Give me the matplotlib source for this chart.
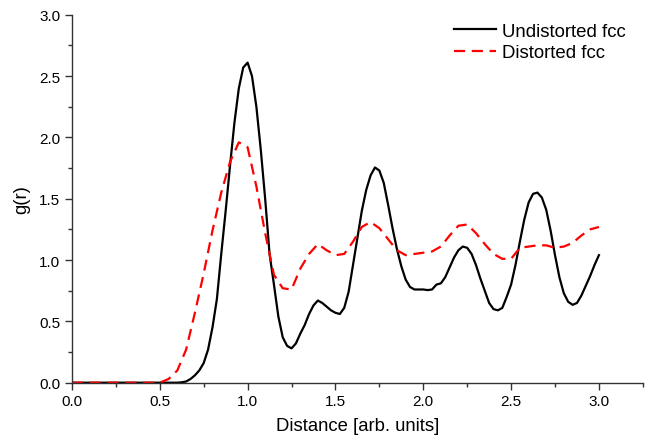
import numpy as np
import matplotlib
matplotlib.use('Agg')
import matplotlib.pyplot as plt
from matplotlib.ticker import MultipleLocator

plt.rcParams['font.family'] = ['Liberation Sans', 'DejaVu Sans']

# Undistorted fcc (fine sampling)
r_undist = [0.0, 0.1, 0.2, 0.3, 0.4, 0.5, 0.6, 0.625, 0.65, 0.675, 0.70, 0.725,
            0.75, 0.775, 0.80, 0.825, 0.85, 0.875, 0.90, 0.925, 0.95, 0.975,
            1.00, 1.025, 1.05, 1.075, 1.10, 1.125, 1.15, 1.175, 1.20, 1.225,
            1.25, 1.275, 1.30, 1.325, 1.35, 1.375, 1.40, 1.425, 1.45, 1.475,
            1.50, 1.525, 1.55, 1.575, 1.60, 1.625, 1.65, 1.675, 1.70, 1.725,
            1.75, 1.775, 1.80, 1.825, 1.85, 1.875, 1.90, 1.925, 1.95, 1.975,
            2.00, 2.025, 2.05, 2.075, 2.10, 2.125, 2.15, 2.175, 2.20, 2.225,
            2.25, 2.275, 2.30, 2.325, 2.35, 2.375, 2.40, 2.425, 2.45, 2.475,
            2.50, 2.525, 2.55, 2.575, 2.60, 2.625, 2.65, 2.675, 2.70, 2.725,
            2.75, 2.775, 2.80, 2.825, 2.85, 2.875, 2.90, 2.925, 2.95, 2.975, 3.00]
g_undist = [0.0, 0.0, 0.0, 0.0, 0.0, 0.0, 0.0, 0.003, 0.01, 0.03, 0.06, 0.10,
            0.16, 0.27, 0.45, 0.68, 1.05, 1.40, 1.77, 2.12, 2.40, 2.57,
            2.61, 2.50, 2.25, 1.90, 1.50, 1.05, 0.80, 0.54, 0.37, 0.30,
            0.28, 0.32, 0.40, 0.47, 0.56, 0.63, 0.67, 0.65, 0.62, 0.59,
            0.57, 0.56, 0.61, 0.74, 0.96, 1.18, 1.40, 1.57, 1.69, 1.755,
            1.73, 1.63, 1.45, 1.26, 1.09, 0.95, 0.84, 0.78, 0.76, 0.76,
            0.76, 0.755, 0.76, 0.80, 0.81, 0.86, 0.94, 1.02, 1.08, 1.11,
            1.10, 1.05, 0.96, 0.85, 0.75, 0.65, 0.60, 0.59, 0.61, 0.70,
            0.80, 0.96, 1.15, 1.33, 1.47, 1.54, 1.55, 1.51, 1.41, 1.24,
            1.04, 0.86, 0.73, 0.66, 0.635, 0.65, 0.71, 0.79, 0.87, 0.96, 1.04]

# Distorted fcc (coarse sampling)
r_dist = [0.0, 0.1, 0.2, 0.3, 0.4, 0.5, 0.55, 0.60, 0.65, 0.70, 0.75, 0.80,
          0.85, 0.90, 0.95, 1.00, 1.05, 1.10, 1.15, 1.20, 1.25, 1.30, 1.35,
          1.40, 1.45, 1.50, 1.55, 1.60, 1.65, 1.70, 1.75, 1.80, 1.85, 1.90,
          1.95, 2.00, 2.05, 2.10, 2.15, 2.20, 2.25, 2.30, 2.35, 2.40, 2.45,
          2.50, 2.55, 2.60, 2.65, 2.70, 2.75, 2.80, 2.85, 2.90, 2.95, 3.00]
g_dist = [0.0, 0.0, 0.0, 0.0, 0.0, 0.0, 0.03, 0.10, 0.27, 0.57, 0.89, 1.24,
          1.55, 1.80, 1.96, 1.92, 1.60, 1.22, 0.88, 0.77, 0.76, 0.93, 1.05,
          1.13, 1.08, 1.04, 1.05, 1.15, 1.27, 1.31, 1.26, 1.17, 1.08, 1.04,
          1.05, 1.06, 1.07, 1.11, 1.20, 1.28, 1.29, 1.22, 1.13, 1.05, 1.01,
          1.01, 1.10, 1.11, 1.12, 1.12, 1.10, 1.11, 1.14, 1.20, 1.25, 1.27]

xticks = [0.0, 0.5, 1.0, 1.5, 2.0, 2.5, 3.0]

fig = plt.figure(figsize=(6.6, 4.39), dpi=100)
ax = fig.add_axes([0.109, 0.126, 0.865, 0.838])

ax.plot(r_undist, g_undist, color='black', linewidth=1.6, label='Undistorted fcc')
ax.plot(r_dist, g_dist, color='red', linewidth=1.6, linestyle=(0, (5, 3)),
        label='Distorted fcc')

ax.set_xlim(0, 3.25)
ax.set_ylim(0, 3.0)
ax.set_xticks(xticks)
ax.set_xticklabels([f'{v:.1f}' for v in xticks])
ax.xaxis.set_minor_locator(MultipleLocator(0.25))
ax.yaxis.set_major_locator(MultipleLocator(0.5))
ax.yaxis.set_minor_locator(MultipleLocator(0.25))

for s in ['top', 'right']:
    ax.spines[s].set_visible(False)
for s in ['left', 'bottom']:
    ax.spines[s].set_color('#333333')
    ax.spines[s].set_linewidth(1.0)

ax.tick_params(which='major', direction='out', length=5, width=1, color='#333333',
               labelsize=11, labelcolor='black')
ax.tick_params(which='minor', direction='out', length=3, width=1, color='#333333')

ax.set_xlabel('Distance [arb. units]', fontsize=13.3, labelpad=6)
ax.set_ylabel('g(r)', fontsize=13.3, labelpad=6)

ax.legend(loc='upper left', frameon=False, fontsize=13.4, handlelength=2.25,
          handletextpad=0.32, labelspacing=0.25, borderpad=0, borderaxespad=0,
          bbox_to_anchor=(0.669, 0.979))

fig.savefig('out.png', dpi=100)
